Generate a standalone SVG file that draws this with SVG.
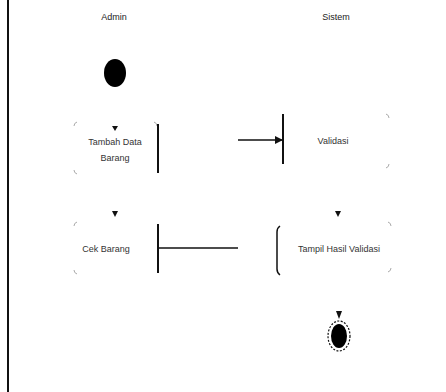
<svg xmlns="http://www.w3.org/2000/svg" width="446" height="392" viewBox="0 0 446 392">
<style>
text{font-family:"Liberation Sans",Arial,sans-serif;font-size:9px;fill:#333;text-anchor:middle}
.hd{font-size:9px;fill:#222}
.corner{fill:none;stroke:#aaa;stroke-width:1}
.bar{stroke:#111;stroke-width:2}
.ln{stroke:#111;stroke-width:1.5;fill:none}
.tri{fill:#111}
</style>
<defs>
<marker id="ah" markerWidth="8" markerHeight="8" refX="7" refY="4" orient="auto" markerUnits="userSpaceOnUse">
<path d="M0,0 L8,4 L0,8 z" fill="#111"/>
</marker>
</defs>
<rect width="446" height="392" fill="#fff"/>
<line x1="8" y1="0" x2="8" y2="392" stroke="#111" stroke-width="2"/>
<g id="lane-admin"><text class="hd" x="114" y="20">Admin</text></g>
<g id="lane-sistem"><text class="hd" x="336" y="20">Sistem</text></g>

<g id="start"><ellipse cx="115" cy="73" rx="11" ry="14" fill="#000"/></g>

<g id="n1">
<path class="corner" d="M74,126 q0,-3 3,-4 M74,170 q0,3 3,4 M154,122 q3,1 3,4"/>
<line class="bar" x1="158" y1="124" x2="158" y2="173"/>
<text x="115" y="145">Tambah Data</text>
<text x="115" y="161">Barang</text>
</g>

<g id="n2">
<path class="corner" d="M386,114 q3,1 3,4 M386,168 q3,-1 3,-4"/>
<line class="bar" x1="283" y1="114" x2="283" y2="164"/>
<text x="333" y="144">Validasi</text>
</g>

<g id="n3">
<path class="corner" d="M74,226 q0,-3 3,-4 M74,270 q0,3 3,4"/>
<line class="bar" x1="158" y1="224" x2="158" y2="273"/>
<text x="106" y="252">Cek Barang</text>
</g>

<g id="n4">
<path class="corner" d="M388,222 q3,1 3,4 M388,272 q3,-1 3,-4"/>
<path class="ln" d="M280,226 q-3,2 -3,6 v37 q0,4 3,6" stroke-width="2"/>
<text x="339" y="252">Tampil Hasil Validasi</text>
</g>

<g id="end">
<ellipse cx="339" cy="336" rx="11" ry="15" fill="none" stroke="#111" stroke-width="1.2" stroke-dasharray="2,1.5"/>
<ellipse cx="339" cy="336" rx="8" ry="12" fill="#000"/>
</g>

<g id="connectors">
<path class="tri" d="M112,126 L118,126 L115,131 z"/>
<line class="ln" x1="238" y1="140" x2="282" y2="140" marker-end="url(#ah)"/>
<path class="tri" d="M335,211 L341,211 L338,217 z"/>
<line class="ln" x1="238" y1="248" x2="159" y2="248"/>
<path class="tri" d="M112,211 L118,211 L115,217 z"/>
<path class="tri" d="M336,311 L342,311 L339,319 z"/>
</g>
</svg>
